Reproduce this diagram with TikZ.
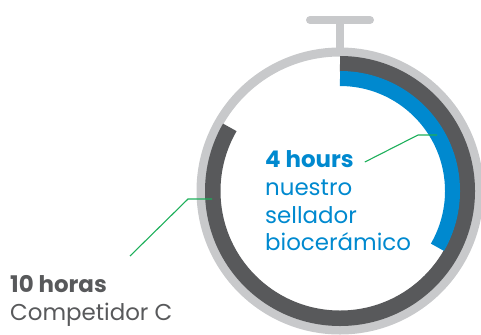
\documentclass[tikz,border=0pt]{standalone}
\usepackage{fontspec}
\setmainfont{Poppins}
\usetikzlibrary{positioning}
\definecolor{ringgray}{HTML}{C8C9CB}
\definecolor{dialgray}{HTML}{58595B}
\definecolor{sealblue}{HTML}{0089CF}
\definecolor{leadgreen}{HTML}{1DAF5A}

\begin{document}
\begin{tikzpicture}[x=1bp, y=1bp,
    lbl/.style = {anchor=base west, inner sep=0pt, font=\fontsize{23}{28}\selectfont},
    lead/.style = {draw=leadgreen, line width=1.1bp}]
    \useasboundingbox (0,0) rectangle (481,334);

    % stopwatch
    \coordinate (c) at (340,143);
    \draw[ringgray, line width=8bp, line cap=round] (310,314) -- (370,314);
    \draw[ringgray, line width=8bp] (340,314) -- (340,280);
    \draw[ringgray, line width=9bp] (c) circle (139bp);
    \draw[dialgray, line width=15.5bp] (c) ++(90:127.25bp) arc (90:-210:127.25bp);
    \draw[sealblue, line width=15bp] (c) ++(90:112.5bp) arc (90:-30:112.5bp);

    % labels
    \node[lbl, text=sealblue] (hrs) at (265,167) {\bfseries 4 hours};
    \node[lbl, text=sealblue] (ln1) at (265,139) {nuestro};
    \node[lbl, text=sealblue] (ln2) at (265,111) {sellador};
    \node[lbl, text=sealblue] (ln3) at (265,84)  {biocerámico};
    \node[lbl, text=dialgray] (hrs2) at (10,42) {\bfseries 10 horas};
    \node[lbl, text=dialgray] (comp) at (10,14) {Competidor C};

    % leaders
    \coordinate (k1) at (418,199);
    \coordinate (t1) at (437,199);
    \coordinate (k2) at (188,135);
    \coordinate (t2) at (212,135);
    \draw[lead] ([shift={(11bp,5bp)}]hrs.base east) -- (k1) -- (t1);
    \draw[lead] ([shift={(23bp,36bp)}]hrs2.base east) -- (k2) -- (t2);
\end{tikzpicture}
\end{document}
